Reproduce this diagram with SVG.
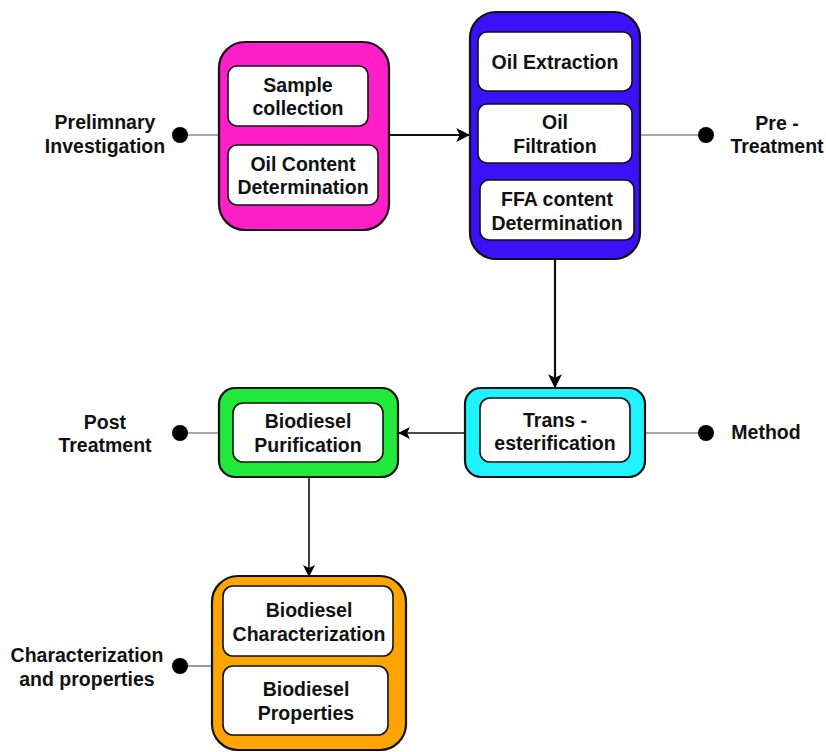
<svg xmlns="http://www.w3.org/2000/svg" width="826" height="752" viewBox="0 0 826 752">
  <style>
    .outer { stroke: #111; stroke-width: 2.2; }
    .inner { fill: #fff; stroke: #111; stroke-width: 1.6; }
    .lbl { font-family: "Liberation Sans", Arial, sans-serif; font-weight: bold; font-size: 19.5px; fill: #111; text-anchor: middle; }
    .tie { stroke: #555; stroke-width: 1.2; fill: none; }
    .dot { fill: #000; }
    .flow { stroke: #111; fill: none; }
  </style>
  <defs>
    <marker id="head" viewBox="0 0 12 12" refX="11" refY="6" markerUnits="userSpaceOnUse" markerWidth="14" markerHeight="14" orient="auto">
      <path d="M0,0 L12,6 L0,12 L3,6 Z" fill="#000"/>
    </marker>
    <marker id="headSmall" viewBox="0 0 12 12" refX="11" refY="6" markerUnits="userSpaceOnUse" markerWidth="12" markerHeight="12" orient="auto">
      <path d="M0,0 L12,6 L0,12 L3,6 Z" fill="#000"/>
    </marker>
  </defs>

  <!-- connectors -->
  <g id="connectors">
    <line class="tie" x1="180" y1="135" x2="219" y2="135"/>
    <line class="tie" x1="640" y1="135" x2="706" y2="135"/>
    <line class="tie" x1="180" y1="433" x2="219" y2="433"/>
    <line class="tie" x1="645" y1="433" x2="706" y2="433"/>
    <line class="tie" x1="180" y1="666" x2="212" y2="666"/>
    <circle class="dot" cx="180" cy="135" r="8"/>
    <circle class="dot" cx="706" cy="135" r="8"/>
    <circle class="dot" cx="180" cy="433" r="8"/>
    <circle class="dot" cx="706" cy="433" r="8"/>
    <circle class="dot" cx="180" cy="666" r="8"/>
    <line class="flow" stroke-width="2.2" x1="389" y1="135" x2="469" y2="135" marker-end="url(#head)"/>
    <line class="flow" stroke-width="2.2" x1="555" y1="259" x2="555" y2="387" marker-end="url(#head)"/>
    <line class="flow" stroke-width="1.6" x1="465" y1="433" x2="399" y2="433" marker-end="url(#headSmall)"/>
    <line class="flow" stroke-width="1.6" x1="309" y1="477" x2="309" y2="576" marker-end="url(#headSmall)"/>
  </g>

  <!-- side captions -->
  <g id="cap-preliminary">
    <text class="lbl" x="105" y="129">Prelimnary</text>
    <text class="lbl" x="105" y="153">Investigation</text>
  </g>
  <g id="cap-pretreatment">
    <text class="lbl" x="777" y="130">Pre -</text>
    <text class="lbl" x="777" y="153">Treatment</text>
  </g>
  <g id="cap-post">
    <text class="lbl" x="105" y="429">Post</text>
    <text class="lbl" x="105" y="452">Treatment</text>
  </g>
  <g id="cap-method">
    <text class="lbl" x="766" y="439">Method</text>
  </g>
  <g id="cap-characterization">
    <text class="lbl" x="87" y="662">Characterization</text>
    <text class="lbl" x="87" y="686">and properties</text>
  </g>

  <!-- preliminary investigation -->
  <g id="node-preliminary">
    <rect class="outer" x="219" y="42" width="170" height="188" rx="26" fill="#ff1fc8"/>
    <rect class="inner" x="228" y="66" width="140" height="60" rx="9"/>
    <text class="lbl" x="298" y="92">Sample</text>
    <text class="lbl" x="298" y="115">collection</text>
    <rect class="inner" x="228" y="145" width="150" height="60" rx="9"/>
    <text class="lbl" x="303" y="171">Oil Content</text>
    <text class="lbl" x="303" y="194">Determination</text>
  </g>

  <!-- pre-treatment -->
  <g id="node-pretreatment">
    <rect class="outer" x="470" y="12" width="170" height="247" rx="26" fill="#3a12f8"/>
    <rect class="inner" x="478" y="32" width="154" height="59" rx="9"/>
    <text class="lbl" x="555" y="69">Oil Extraction</text>
    <rect class="inner" x="478" y="104" width="154" height="59" rx="9"/>
    <text class="lbl" x="555" y="129">Oil</text>
    <text class="lbl" x="555" y="153">Filtration</text>
    <rect class="inner" x="480" y="180" width="154" height="60" rx="9"/>
    <text class="lbl" x="557" y="206">FFA content</text>
    <text class="lbl" x="557" y="230">Determination</text>
  </g>

  <!-- method -->
  <g id="node-method">
    <rect class="outer" x="465" y="388" width="180" height="89" rx="16" fill="#1ff3ff"/>
    <rect class="inner" x="480" y="398" width="150" height="64" rx="10"/>
    <text class="lbl" x="555" y="427">Trans -</text>
    <text class="lbl" x="555" y="450">esterification</text>
  </g>

  <!-- post treatment -->
  <g id="node-post">
    <rect class="outer" x="219" y="388" width="179" height="89" rx="16" fill="#22ea3c"/>
    <rect class="inner" x="233" y="403" width="150" height="59" rx="10"/>
    <text class="lbl" x="308" y="428">Biodiesel</text>
    <text class="lbl" x="308" y="452">Purification</text>
  </g>

  <!-- characterization -->
  <g id="node-characterization">
    <rect class="outer" x="212" y="576" width="194" height="174" rx="26" fill="#ffa400"/>
    <rect class="inner" x="223" y="586" width="170" height="70" rx="10"/>
    <text class="lbl" x="309" y="617">Biodiesel</text>
    <text class="lbl" x="309" y="641">Characterization</text>
    <rect class="inner" x="223" y="666" width="165" height="69" rx="10"/>
    <text class="lbl" x="306" y="696">Biodiesel</text>
    <text class="lbl" x="306" y="720">Properties</text>
  </g>
</svg>
